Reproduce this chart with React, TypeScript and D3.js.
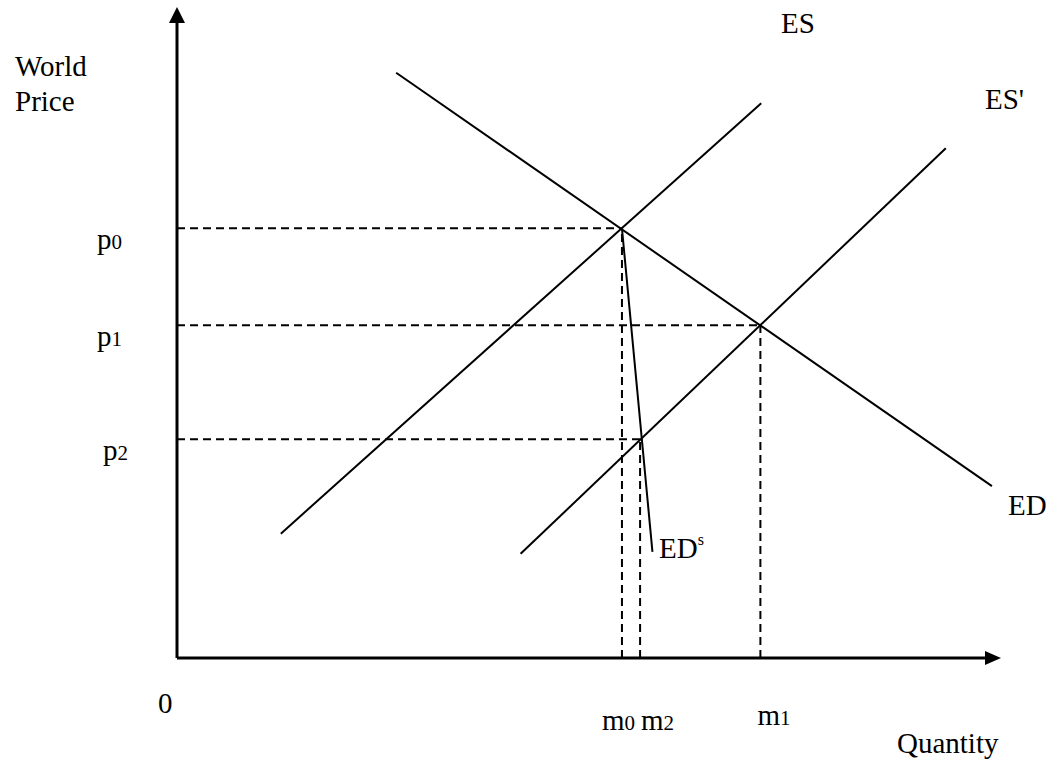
import React from 'react';
import * as d3 from 'd3';

// equilibrium levels (axis units 0..10)
const priceNames = ['0', '1', '2'];
const priceValues = [6.6, 5.11, 3.36];
const quantityNames = ['0', '2', '1'];
const quantityValues = [5.4, 5.62, 7.08];
const quantityMeetsPrice = [6.6, 3.36, 5.11];

// straight curves: start and end points
const curveNames = ['ES', "ES'", 'ED', 'EDs'];
const curveQ0 = [1.26, 4.17, 2.66, 5.4];
const curveP0 = [1.91, 1.6, 8.99, 6.6];
const curveQ1 = [7.09, 9.33, 9.89, 5.77];
const curveP1 = [8.52, 7.83, 2.64, 1.63];

const W = 1057;
const H = 764;
const FONT = '"Liberation Serif", "Times New Roman", serif';
const FS = 29;
const SUB = 21;

const App: React.FC = () => {
  const x = d3.scaleLinear().domain([0, 10]).range([177, 1001]);
  const y = d3.scaleLinear().domain([0, 10]).range([658, 7]);
  const line = d3.line<[number, number]>().x(d => x(d[0])).y(d => y(d[1]));

  const x0 = x(0);
  const y0 = y(0);

  return (
    <svg width={W} height={H} style={{ position: 'absolute', left: 0, top: 0, background: '#fff' }}
      fontFamily={FONT} fill="#000">
      {/* dashed guides */}
      {priceValues.map((p, i) => {
        const q = quantityValues[quantityMeetsPrice.indexOf(p)];
        return (
          <path key={'hp' + i} d={line([[0, p], [q, p]]) || ''} stroke="#000" strokeWidth={2}
            strokeDasharray="8,5" fill="none" />
        );
      })}
      {quantityValues.map((q, i) => (
        <path key={'vq' + i} d={line([[q, 0], [q, quantityMeetsPrice[i]]]) || ''} stroke="#000"
          strokeWidth={2} strokeDasharray="8,5" fill="none" />
      ))}

      {/* curves */}
      {curveNames.map((n, i) => (
        <path key={n} d={line([[curveQ0[i], curveP0[i]], [curveQ1[i], curveP1[i]]]) || ''}
          stroke="#000" strokeWidth={2} fill="none" />
      ))}

      {/* axes */}
      <line x1={x0} y1={y0} x2={x0} y2={y(10) + 14} stroke="#000" strokeWidth={3} />
      <polygon points={`${x0},${y(10)} ${x0 - 8},${y(10) + 16} ${x0 + 8},${y(10) + 16}`} />
      <line x1={x0} y1={y0} x2={x(10) - 14} y2={y0} stroke="#000" strokeWidth={3} />
      <polygon points={`${x(10)},${y0} ${x(10) - 16},${y0 - 7} ${x(10) - 16},${y0 + 7}`} />

      {/* axis titles */}
      <text x={15} y={76} fontSize={FS}>World</text>
      <text x={15} y={111} fontSize={FS}>Price</text>
      <text x={897} y={753} fontSize={FS}>Quantity</text>
      <text x={158} y={713} fontSize={FS}>0</text>

      {/* price labels */}
      {priceNames.map((s, i) => (
        <text key={'pl' + i} x={i === 2 ? 103 : 97} y={y(priceValues[i]) + 21} fontSize={FS}>
          p<tspan fontSize={SUB}>{s}</tspan>
        </text>
      ))}

      {/* quantity labels */}
      <text x={x(quantityValues[0]) - 20} y={730} fontSize={FS}>
        m<tspan fontSize={SUB}>{quantityNames[0]}</tspan>
        <tspan dx={6}>m</tspan><tspan fontSize={SUB}>{quantityNames[1]}</tspan>
      </text>
      <text x={x(quantityValues[2]) - 3} y={725} fontSize={FS}>
        m<tspan fontSize={SUB}>{quantityNames[2]}</tspan>
      </text>

      {/* curve labels */}
      <text x={781} y={33} fontSize={FS}>ES</text>
      <text x={985} y={109} fontSize={FS}>ES'</text>
      <text x={1008} y={515} fontSize={FS}>ED</text>
      <text x={659} y={558} fontSize={FS}>
        ED<tspan fontSize={16} dy={-13}>s</tspan>
      </text>
    </svg>
  );
};

export default App;
